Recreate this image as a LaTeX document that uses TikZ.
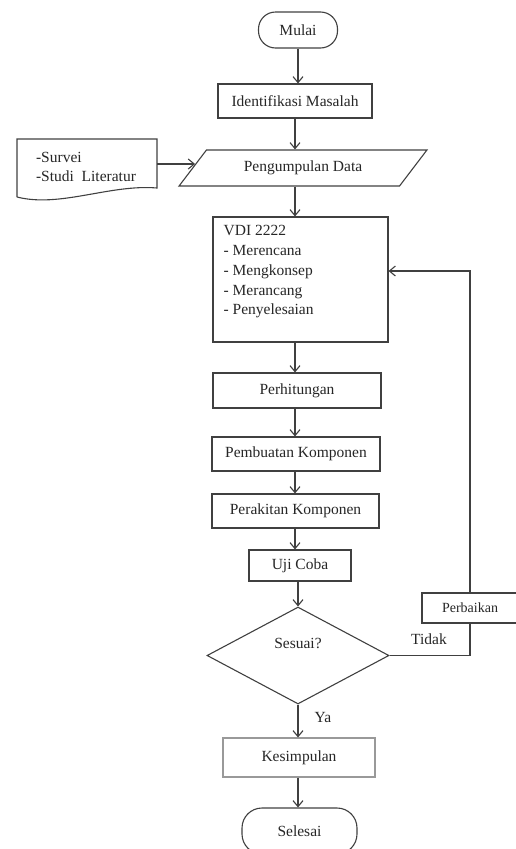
\documentclass[tikz,border=0pt]{standalone}
\usepackage{fontspec}
\setmainfont{Liberation Serif}
\usetikzlibrary{shapes.geometric,arrows.meta}

\tikzset{
  garis/.style={line width=1.1pt,draw=black!75},
  panah/.style={line width=1.1pt,draw=black!75,-{Straight Barb[length=6pt,width=10pt,line width=1.1pt]}},
  proses/.style={garis,rectangle,inner sep=0pt,minimum height=34pt},
  terminal/.style={garis,rectangle,rounded corners=17pt,inner sep=0pt,minimum height=36pt},
  datain/.style={garis,trapezium,trapezium left angle=40,trapezium right angle=140,
    trapezium stretches=true,inner sep=0pt,minimum width=248pt,minimum height=36pt},
  keputusan/.style={garis,diamond,inner sep=0pt,minimum width=182pt,minimum height=97pt},
  teks/.style={inner sep=0pt}
}

\begin{document}
\begin{tikzpicture}[x=1pt,y=-1pt,
    every node/.style={font=\fontsize{15.5}{19.7}\selectfont,text=black!85}]
      \useasboundingbox (0,0) rectangle (516,849);

      \node[terminal,minimum width=79pt] (mulai) at (298,30) {Mulai};
      \node[proses,minimum width=154pt] (ident) at (295,101) {Identifikasi Masalah};
      \node[datain] (kumpul) at (303,168) {Pengumpulan Data};

      \draw[garis] (17,197) -- (17,139) -- (157,139) -- (157,188)
        .. controls (110,184) and (60,208) .. (17,197);
      \coordinate (litkanan) at (157,164);
      \node[teks,align=left] (lit) at (86,167) {-Survei\\-Studi\ \ Literatur};

      \node[proses,minimum width=175pt,minimum height=125pt] (vdi) at (300.5,279.5) {};
      \node[teks,align=left,anchor=north west] (vditeks) at ([xshift=11pt,yshift=-9pt]vdi.north west)
        {VDI 2222\\- Merencana\\- Mengkonsep\\- Merancang\\- Penyelesaian};

      \node[proses,minimum width=168pt,minimum height=35pt] (hitung) at (297,390.5) {Perhitungan};
      \node[proses,minimum width=168pt] (buat) at (296,454) {Pembuatan Komponen};
      \node[proses,minimum width=167pt] (rakit) at (295.5,511) {Perakitan Komponen};
      \node[proses,minimum width=102pt,minimum height=31pt] (uji) at (300,565.5) {Uji Coba};
      \node[keputusan] (sesuai) at (298,655.5) {};
      \node[teks] (sesuaiteks) at ([yshift=12pt]sesuai.center) {Sesuai?};
      \node[proses,minimum width=96pt,minimum height=30pt,font=\fontsize{14}{17}\selectfont] (perbaikan) at (470,608) {Perbaikan};
      \node[proses,draw=black!40,minimum width=152pt,minimum height=39pt] (simpul) at (299,757.5) {Kesimpulan};
      \node[terminal,rounded corners=20pt,minimum width=115pt,minimum height=46pt] (selesai) at (299.5,831) {Selesai};

      \node[teks] (ya) at (323,717) {Ya};
      \node[teks] (tidak) at (429,639) {Tidak};
      \coordinate (balik) at (470,271);

      \draw[panah] (mulai.south) -- (mulai.south |- ident.north);
      \draw[panah] (ident.south) -- (ident.south |- kumpul.north);
      \draw[panah] (litkanan) -- ([xshift=3pt]litkanan -| kumpul.west);
      \draw[panah] (kumpul.south -| ident.south) -- (ident.south |- vdi.north);
      \draw[panah] (vdi.south -| ident.south) -- (ident.south |- hitung.north);
      \draw[panah] (hitung.south -| ident.south) -- (ident.south |- buat.north);
      \draw[panah] (buat.south -| ident.south) -- (ident.south |- rakit.north);
      \draw[panah] (rakit.south -| ident.south) -- (ident.south |- uji.north);
      \draw[panah] (uji.south -| sesuai.north) -- (sesuai.north);
      \draw[panah] (sesuai.south) -- (sesuai.south |- simpul.north);
      \draw[panah] (simpul.south -| sesuai.south) -- (sesuai.south |- selesai.north);
      \draw[garis] (sesuai.east) -| (perbaikan.south);
      \draw[panah] (perbaikan.north) -- (balik) -- (balik -| vdi.east);
\end{tikzpicture}
\end{document}
